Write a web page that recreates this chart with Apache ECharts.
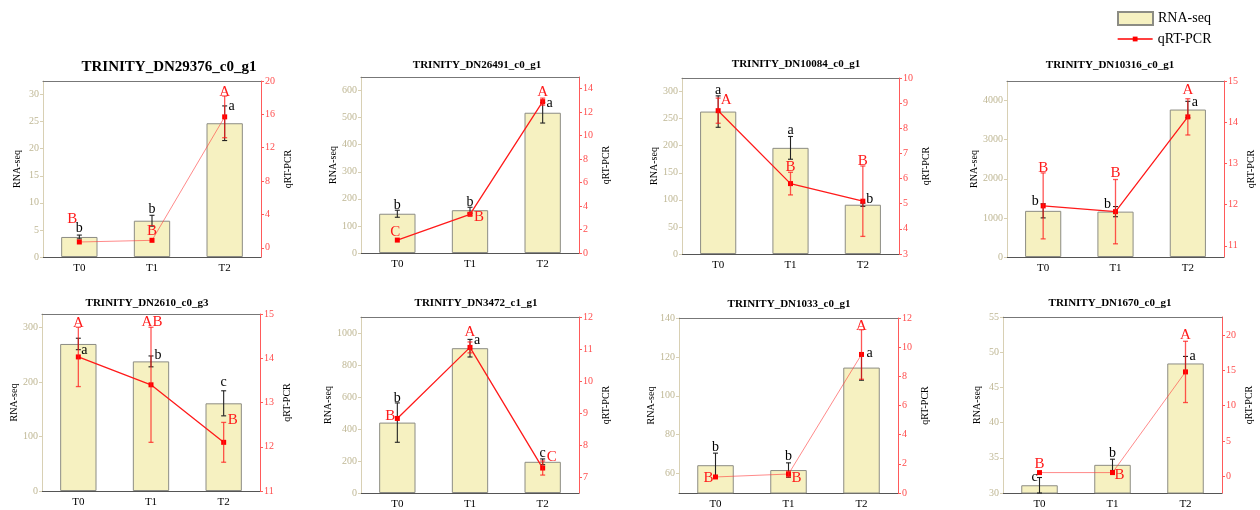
<!DOCTYPE html>
<html><head><meta charset="utf-8">
<script src="https://cdn.jsdelivr.net/npm/echarts@6/dist/echarts.min.js"></script>
<style>html,body{margin:0;padding:0;background:#fff}#c{width:1260px;height:510px}</style>
</head><body><div id="c"></div>
<script>
// ---------------- data ----------------
const categories = ['T0', 'T1', 'T2'];
const genes = ['TRINITY_DN29376_c0_g1', 'TRINITY_DN26491_c0_g1', 'TRINITY_DN10084_c0_g1', 'TRINITY_DN10316_c0_g1',
               'TRINITY_DN2610_c0_g3', 'TRINITY_DN3472_c1_g1', 'TRINITY_DN1033_c0_g1', 'TRINITY_DN1670_c0_g1'];
const rnaSeq = [[3.7, 6.7, 24.7], [145, 158, 518], [263, 196, 91], [1180, 1160, 3770],
                [270, 238, 161], [440, 905, 195], [64.3, 61.8, 114.5], [31.1, 34.0, 48.4]];
const rnaSd = [[0.35, 1.0, 3.2], [13, 11, 38], [29, 21, 3], [180, 130, 210],
               [10.5, 10, 23], [123, 55, 18], [6.2, 3.7, 6.5], [1.1, 0.8, 1.0]];
const rnaLetters = [['b', 'b', 'a'], ['b', 'b', 'a'], ['a', 'a', 'b'], ['b', 'b', 'a'],
                    ['a', 'b', 'c'], ['b', 'a', 'c'], ['b', 'b', 'a'], ['c', 'b', 'a']];
const qpcr = [[0.7, 0.9, 15.7], [1.1, 3.3, 12.9], [8.7, 5.8, 5.1], [11.97, 11.83, 14.13],
              [14.03, 13.4, 12.1], [8.83, 11.05, 7.28], [1.1, 1.3, 9.5], [0.5, 0.5, 14.8]];
const qpcrSd = [[0, 0, 2.5], [0, 0.1, 0.3], [0.5, 0.45, 1.4], [0.8, 0.78, 0.44],
                [0.67, 1.3, 0.45], [0, 0.17, 0.22], [0, 0.2, 1.7], [0, 0, 4.35]];
const qpcrLetters = [['B', 'B', 'A'], ['C', 'B', 'A'], ['A', 'B', 'B'], ['B', 'B', 'A'],
                     ['A', 'AB', 'B'], ['B', 'A', 'C'], ['B', 'B', 'A'], ['B', 'B', 'A']];
const leftTicks = [[0, 5, 10, 15, 20, 25, 30], [0, 100, 200, 300, 400, 500, 600], [0, 50, 100, 150, 200, 250, 300],
                   [0, 1000, 2000, 3000, 4000], [0, 100, 200, 300], [0, 200, 400, 600, 800, 1000],
                   [60, 80, 100, 120, 140], [30, 35, 40, 45, 50, 55]];
const rightTicks = [[0, 4, 8, 12, 16, 20], [0, 2, 4, 6, 8, 10, 12, 14], [3, 4, 5, 6, 7, 8, 9, 10],
                    [11, 12, 13, 14, 15], [11, 12, 13, 14, 15], [7, 8, 9, 10, 11, 12],
                    [0, 2, 4, 6, 8, 10, 12], [0, 5, 10, 15, 20]];
const leftRange = [[0, 32.5], [0, 650], [0, 325], [0, 4500], [0, 325], [0, 1100], [50, 140], [30, 55]];
const rightRange = [[-1.1, 20], [0, 15], [3, 10], [10.73, 15], [11, 15], [6.5, 12], [0, 12], [-2.4, 22.6]];

// ---------------- layout / style ----------------
const FONT = '"Liberation Serif", "Times New Roman", serif';
const grids = [[43, 81, 261, 257], [361, 77, 579, 253], [682, 78, 899, 254], [1007, 81, 1224, 257],
               [42, 314, 260, 491], [361, 317, 579, 493], [679, 318, 898, 494], [1003, 317, 1222, 493]];
const titlePos = [[169, 60], [477, 60], [796, 59], [1110, 60], [147, 298], [476, 298], [789, 299], [1110, 298]];
const rnaLetterOff = [[[0, -7], [0, -6], [7, 0]], [[0, -5], [0, -5], [7, 1]], [[0, -6], [0, -6], [7, -4]], [[-8, -2], [-8, -2], [7, 1]],
                      [[6, 12], [7, -1], [0, -8]], [[0, -5], [7, 1], [0, -6]], [[0, -6], [0, -7], [8, -2]], [[-5, 0], [0, -6], [7, 0]]];
const pcrLetterOff = [[[-7, -23], [0, -9], [0, -4]], [[-2, -8], [9, 4], [0, -6]], [[8, 2], [0, -5], [0, -5]], [[0, -5], [0, -6], [0, -9]],
                      [[0, -4], [1, -5], [9, -2]], [[-7, -2], [0, -10], [9, -4]], [[-7, 1], [8, 7], [0, -4]], [[0, -9], [7, 2], [0, -6]]];
const lightLine = [true, false, false, false, false, false, true, true];

function errRender(color, capW, lw) {
  return function (params, api) {
    const x = api.value(0), lo = api.value(1), hi = api.value(2);
    if (hi === lo) return null;
    const a = api.coord([x, hi]), b = api.coord([x, lo]);
    const h = capW / 2;
    const st = { stroke: color, lineWidth: lw };
    return {
      type: 'group', children: [
        { type: 'line', shape: { x1: a[0], y1: a[1], x2: b[0], y2: b[1] }, style: st },
        { type: 'line', shape: { x1: a[0] - h, y1: a[1], x2: a[0] + h, y2: a[1] }, style: st },
        { type: 'line', shape: { x1: b[0] - h, y1: b[1], x2: b[0] + h, y2: b[1] }, style: st }
      ]
    };
  };
}
function letterRender(letters, offs, color, size) {
  return function (params, api) {
    const p = api.coord([api.value(0), api.value(1)]);
    const k = params.dataIndex;
    return {
      type: 'text', x: p[0] + offs[k][0], y: p[1] + offs[k][1],
      style: { text: letters[k], fill: color, font: size + 'px ' + FONT,
               textAlign: 'center', textVerticalAlign: 'middle', align: 'center', verticalAlign: 'middle' }
    };
  };
}
const plain = v => String(v);

const option = {
  animation: false, backgroundColor: '#fff',
  title: [], grid: [], xAxis: [], yAxis: [], series: [],
  legend: [{
    left: 1117, top: 11, padding: 0, itemWidth: 35, itemHeight: 13, icon: 'rect',
    textStyle: { fontFamily: FONT, fontSize: 14, color: '#000' },
    data: ['RNA-seq']
  }, {
    left: 1117, top: 32, padding: 0, itemWidth: 35, itemHeight: 6,
    lineStyle: { color: '#ff0000', width: 1.3 }, itemStyle: { color: '#ff0000' },
    textStyle: { fontFamily: FONT, fontSize: 14, color: '#000' },
    data: ['qRT-PCR']
  }]
};

genes.forEach((g, i) => {
  const G = grids[i];
  option.grid.push({ left: G[0], top: G[1], width: G[2] - G[0], height: G[3] - G[1] });
  option.title.push({
    text: g, left: titlePos[i][0], top: titlePos[i][1], textAlign: 'center', padding: 0,
    textStyle: { fontFamily: FONT, fontWeight: 'bold', fontSize: i === 0 ? 15 : 11, color: '#000' }
  });
  option.xAxis.push({
    type: 'category', gridIndex: i, data: categories,
    axisLine: { onZero: false, lineStyle: { color: '#555', width: 1 } },
    axisTick: { alignWithLabel: true, length: 4, lineStyle: { color: '#555' } },
    axisLabel: { fontFamily: FONT, fontSize: 11, color: '#000', margin: 6 }
  });
  option.xAxis.push({
    type: 'category', gridIndex: i, position: 'top', data: categories,
    axisLine: { onZero: false, lineStyle: { color: '#777', width: 1 } }, axisTick: { show: false }, axisLabel: { show: false }
  });
  option.yAxis.push({
    type: 'value', gridIndex: i, position: 'left', min: leftRange[i][0], max: leftRange[i][1],
    name: 'RNA-seq', nameLocation: 'middle', nameGap: 21, nameRotate: 90,
    nameTextStyle: { fontFamily: FONT, fontSize: 10, color: '#000' },
    axisLine: { show: true, onZero: false, lineStyle: { color: '#d8d0b4' } },
    axisTick: { show: true, length: 3, lineStyle: { color: '#d8d0b4' }, customValues: leftTicks[i] },
    axisLabel: { customValues: leftTicks[i], formatter: plain, fontFamily: FONT, fontSize: 10, color: '#bfb794', margin: 4 },
    splitLine: { show: false }
  });
  option.yAxis.push({
    type: 'value', gridIndex: i, position: 'right', min: rightRange[i][0], max: rightRange[i][1],
    name: 'qRT-PCR', nameLocation: 'middle', nameGap: 22, nameRotate: 90,
    nameTextStyle: { fontFamily: FONT, fontSize: 10, color: '#000' },
    axisLine: { show: true, onZero: false, lineStyle: { color: '#ff5a5a' } },
    axisTick: { show: true, length: 3, lineStyle: { color: '#ff5a5a' }, customValues: rightTicks[i] },
    axisLabel: { customValues: rightTicks[i], formatter: plain, fontFamily: FONT, fontSize: 10, color: '#ff4d4d', margin: 4 },
    splitLine: { show: false }
  });
  const xi = 2 * i, yl = 2 * i, yr = 2 * i + 1;
  option.series.push({
    name: 'RNA-seq', type: 'bar', xAxisIndex: xi, yAxisIndex: yl, data: rnaSeq[i], barWidth: '50%', z: 2,
    itemStyle: { color: '#f6f1c1', borderColor: '#8c8c84', borderWidth: 1 }
  });
  option.series.push({
    type: 'custom', xAxisIndex: xi, yAxisIndex: yl, z: 3, clip: false, silent: true,
    data: rnaSeq[i].map((v, j) => [j, v - rnaSd[i][j], v + rnaSd[i][j]]),
    encode: { x: 0, y: [1, 2] }, renderItem: errRender('#222', 5, 1.1)
  });
  const lc = lightLine[i] ? 'rgba(255,60,60,0.6)' : '#ff1a1a';
  option.series.push({
    name: 'qRT-PCR', type: 'line', xAxisIndex: xi, yAxisIndex: yr, data: qpcr[i], z: 4,
    symbol: 'rect', symbolSize: 5, lineStyle: { color: lc, width: lightLine[i] ? 1 : 1.3 },
    itemStyle: { color: '#ff0000' }
  });
  option.series.push({
    type: 'custom', xAxisIndex: xi, yAxisIndex: yr, z: 5, clip: false, silent: true,
    data: qpcr[i].map((v, j) => [j, v - qpcrSd[i][j], v + qpcrSd[i][j]]),
    encode: { x: 0, y: [1, 2] }, renderItem: errRender('rgba(255,30,30,0.75)', 5, 1.3)
  });
  option.series.push({
    type: 'custom', xAxisIndex: xi, yAxisIndex: yl, z: 6, clip: false, silent: true,
    data: rnaSeq[i].map((v, j) => [j, v + rnaSd[i][j]]),
    encode: { x: 0, y: 1 }, renderItem: letterRender(rnaLetters[i], rnaLetterOff[i], '#000', 14)
  });
  option.series.push({
    type: 'custom', xAxisIndex: xi, yAxisIndex: yr, z: 6, clip: false, silent: true,
    data: qpcr[i].map((v, j) => [j, v + qpcrSd[i][j]]),
    encode: { x: 0, y: 1 }, renderItem: letterRender(qpcrLetters[i], pcrLetterOff[i], '#ff1a1a', 15)
  });
});

const chart = echarts.init(document.getElementById('c'), null, { renderer: 'canvas' });
chart.setOption(option);
</script>
</body></html>
